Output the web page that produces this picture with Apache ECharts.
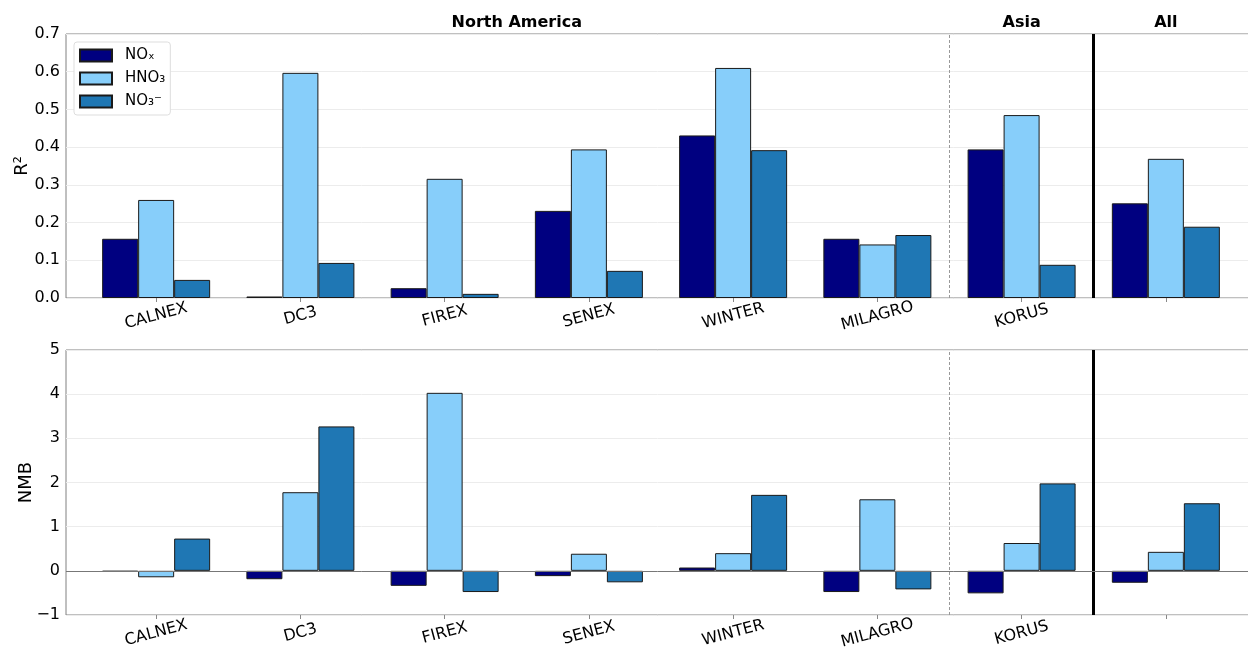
<!DOCTYPE html>
<html><head><meta charset="utf-8">
<script src="https://cdn.jsdelivr.net/npm/echarts@6/dist/echarts.min.js"></script>
<style>html,body{margin:0;padding:0;background:#fff;overflow:hidden}#c{width:1248px;height:651px}</style>
</head><body><div id="c"></div>
<script>
const categories = ['CALNEX','DC3','FIREX','SENEX','WINTER','MILAGRO','KORUS',''];
const seriesNames = ['NOₓ','HNO₃','NO₃⁻'];
const colors = ['#000080','#87cefa','#1f77b4'];
const r2_NOx  = [0.157, 0.004, 0.026, 0.231, 0.431, 0.157, 0.394, 0.251];
const r2_HNO3 = [0.260, 0.597, 0.316, 0.394, 0.610, 0.142, 0.485, 0.369];
const r2_NO3  = [0.048, 0.093, 0.011, 0.072, 0.392, 0.167, 0.088, 0.189];
const nmb_NOx  = [-0.02, -0.19, -0.34, -0.12, 0.075, -0.48, -0.51, -0.27];
const nmb_HNO3 = [-0.146, 1.78, 4.03, 0.387, 0.40, 1.62, 0.63, 0.43];
const nmb_NO3  = [0.73, 3.27, -0.48, -0.26, 1.72, -0.42, 1.98, 1.53];
const r2Ticks = [0,0.1,0.2,0.3,0.4,0.5,0.6,0.7];
const nmbTicks = [-1,0,1,2,3,4,5];
const regions = [{name:'North America', from:0, to:5},{name:'Asia', from:6, to:6},{name:'All', from:7, to:7}];
const regionDividers = [5.5, 6.5];

const FONT = 'DejaVu Sans';
const chart = echarts.init(document.getElementById('c'), null, {renderer:'canvas'});
const idx = categories.map((_, i) => i);

function xAxisFor(gi){
  return {
    type:'value', gridIndex:gi, min:-0.625, max:7.625,
    axisLine:{show:false, onZero:false}, splitLine:{show:false},
    axisTick:{show:true, customValues: idx, length:4, lineStyle:{color:'#888'}},
    axisLabel:{show:true, customValues: idx, formatter:v => categories[Math.round(v)],
      rotate:15, align:'center', verticalAlign:'middle',
      fontFamily:FONT, fontSize:16, color:'#000', margin:18}
  };
}
function mk(data, i, gi, extra){
  const s = {
    name: seriesNames[i], type:'bar', xAxisIndex:gi, yAxisIndex:gi,
    data: data.map((v, k) => [k, v]), barWidth:36, barGap:'0%',
    itemStyle:{color:colors[i], borderColor:'#1a1a1a', borderWidth:1},
    emphasis:{disabled:true}, animation:false
  };
  return Object.assign(s, extra || {});
}
function dividers(zero){
  const d = [
    {xAxis:regionDividers[0], lineStyle:{type:[3,2], color:'#999', width:1}},
    {xAxis:regionDividers[1], lineStyle:{type:'solid', color:'#000', width:3}}
  ];
  if (zero) d.push({yAxis:0, lineStyle:{type:'solid', color:'#777', width:1}});
  return {markLine:{symbol:'none', silent:true, label:{show:false}, data:d, animation:false}};
}
function yAxisFor(gi, ticks, name, gap, fmt){
  return {
    type:'value', gridIndex:gi, min:ticks[0], max:ticks[ticks.length-1], interval:ticks[1]-ticks[0],
    name:name, nameLocation:'middle', nameGap:gap, nameMoveOverlap:false,
    nameTextStyle:{fontFamily:FONT, fontSize:18, color:'#000'},
    axisLine:{show:false, onZero:false}, axisTick:{show:false},
    axisLabel:{fontFamily:FONT, fontSize:16, color:'#000', formatter:fmt, margin:6},
    splitLine:{show:true, lineStyle:{color:'#ececec', width:1}}
  };
}

chart.setOption({
  animation:false,
  textStyle:{fontFamily:FONT},
  legend:{
    data:seriesNames, orient:'vertical', left:74, top:42, icon:'rect',
    itemWidth:32, itemHeight:12, itemGap:8,
    padding:[6,5,6,5], backgroundColor:'#fff', borderColor:'#dddddd', borderWidth:1, borderRadius:3,
    textStyle:{fontFamily:FONT, fontSize:15, color:'#000', lineHeight:15, padding:[0,0,0,8]}
  },
  grid:[
    {left:66, width:1190, top:34, height:264, show:true, borderColor:'#808080', borderWidth:1, containLabel:false, outerBoundsMode:'none'},
    {left:66, width:1190, top:350, height:265, show:true, borderColor:'#808080', borderWidth:1, containLabel:false, outerBoundsMode:'none'}
  ],
  xAxis:[xAxisFor(0), xAxisFor(1)],
  yAxis:[
    yAxisFor(0, r2Ticks, 'R²', 35, v => v.toFixed(1)),
    yAxisFor(1, nmbTicks, 'NMB', 31, v => (v < 0 ? '\u2212' + Math.abs(v) : String(v)))
  ],
  series:[
    mk(r2_NOx, 0, 0), mk(r2_HNO3, 1, 0, dividers(false)), mk(r2_NO3, 2, 0),
    mk(nmb_NOx, 0, 1), mk(nmb_HNO3, 1, 1, dividers(true)), mk(nmb_NO3, 2, 1)
  ]
});

chart.setOption({
  graphic: regions.map(r => ({
    type:'text', x: chart.convertToPixel({xAxisIndex:0}, (r.from + r.to) / 2), y: 23,
    style:{text:r.name, fontFamily:FONT, fontWeight:'bold', fontSize:16, fill:'#000', textAlign:'center', textVerticalAlign:'middle'}
  }))
});
</script></body></html>
